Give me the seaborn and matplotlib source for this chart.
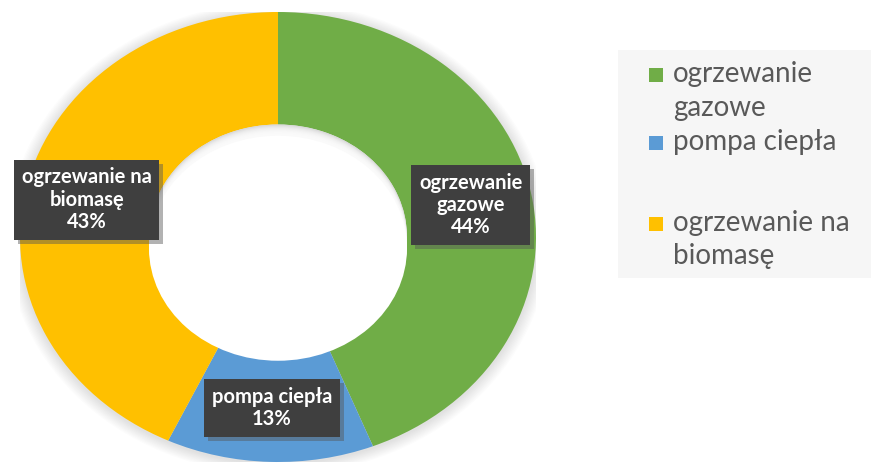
import seaborn as sns
import matplotlib
matplotlib.use('Agg')
import matplotlib.pyplot as plt
import matplotlib.patheffects as pe
from matplotlib.patches import Rectangle, Ellipse
import numpy as np

# dane
kategorie = ['ogrzewanie gazowe', 'pompa ciepła', 'ogrzewanie na biomasę']
etykiety_legendy = [['ogrzewanie', 'gazowe'], ['pompa ciepła'], ['ogrzewanie na', 'biomasę']]
etykiety_wycinkow = ['ogrzewanie\ngazowe', 'pompa ciepła', 'ogrzewanie na\nbiomasę']
udzialy = [44, 13, 43]
kolory = ['#70AD47', '#5B9BD5', '#FFC000']

sns.set_theme(style='white')
plt.rcParams['font.family'] = ['Lato', 'DejaVu Sans']

W, H = 871, 466
fig = plt.figure(figsize=(W / 100, H / 100), dpi=100)
fig.patch.set_facecolor('white')

# osie wykresu (elipsa rozciagnieta w poziomie jak w oryginale)
x0, x1, y0, y1 = 20, 536, 12, 462
ax = fig.add_axes([x0 / W, 1 - y1 / H, (x1 - x0) / W, (y1 - y0) / H])

# miekki cien pod pierscieniem
for i in range(10):
    r = 1.0 + 0.005 * (i + 1)
    ax.add_patch(Ellipse((0.0, -0.006), 2 * r, 2 * r, color='black',
                         alpha=0.013, lw=0, zorder=0))

wedges, _ = ax.pie(udzialy, colors=kolory, startangle=90, counterclock=False,
                   radius=1.0, wedgeprops=dict(width=0.5, edgecolor='none'))
for w in wedges:
    w.set_zorder(1)

# lagodny cien wewnatrz otworu (od gory)
ax.add_patch(Ellipse((0, 0), 1.0, 1.0, color='#DADADA', lw=0, zorder=2))
for i in range(1, 9):
    ax.add_patch(Ellipse((0, -0.005 * i), 1.0, 1.0, color='white',
                         alpha=0.25, lw=0, zorder=2))
ax.add_patch(Ellipse((0, -0.05), 1.0, 1.0, color='white', lw=0, zorder=2))

ax.set_aspect('auto')
ax.set_xlim(-1, 1)
ax.set_ylim(-1, 1)
ax.axis('off')

# etykiety danych
cien = [pe.withSimplePatchShadow(offset=(3, -3), shadow_rgbFace='#555555', alpha=0.45)]
suma = sum(udzialy)
for w, tekst, u in zip(wedges, etykiety_wycinkow, udzialy):
    kat = np.deg2rad((w.theta1 + w.theta2) / 2)
    r = 0.76
    t = ax.text(r * np.cos(kat), r * np.sin(kat), f'{tekst}\n{round(100 * u / suma)}%',
                ha='center', va='center', color='white', fontsize=14.5,
                fontweight='bold', linespacing=1.15, zorder=5,
                bbox=dict(boxstyle='square,pad=0.38', fc='#3F3F3F', ec='none'))
    t.get_bbox_patch().set_path_effects(cien)

# legenda rysowana w pikselach
lax = fig.add_axes([0, 0, 1, 1], facecolor='none')
lax.set_xlim(0, W)
lax.set_ylim(H, 0)
lax.axis('off')
lax.add_patch(Rectangle((618, 50), 253, 228, color='#F6F6F6', lw=0))

linie_bazowe = [[82, 116], [150], [231, 264]]
for kolor, linie, bazy in zip(kolory, etykiety_legendy, linie_bazowe):
    lax.add_patch(Rectangle((649, bazy[0] - 14), 14, 14, color=kolor, lw=0))
    for linia, b in zip(linie, bazy):
        lax.text(673, b, linia, ha='left', va='baseline', fontsize=20, color='#595959')

fig.savefig('out.png', dpi=100)
